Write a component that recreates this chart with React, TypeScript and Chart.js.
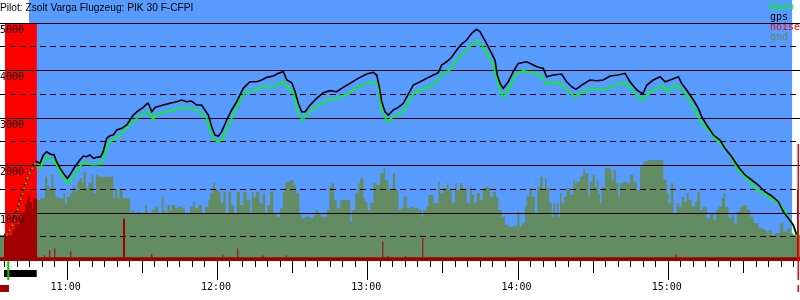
import React, { useEffect, useRef } from 'react';
import { Chart, registerables } from 'chart.js';

Chart.register(...registerables);

// ---------- texts ----------
const TITLE = 'Pilot: Zsolt Varga Flugzeug: PIK 30 F-CFPI';
const legendNames = ['baro', 'gps', 'noise', 'gnd'];
const legendColors = ['#00ff00', '#000000', '#ff0000', '#638c63'];
const altTicks = [1000, 2000, 3000, 4000, 5000];
const hourTimes = [60, 120, 180, 240, 300]; // minutes after 10:00
const hourLabels = ['11:00', '12:00', '13:00', '14:00', '15:00'];

// ---------- time ranges (minutes after 10:00) ----------
const T_MIN = 33.4;
const T_MAX = 352.76;
const flightRange = [35.4, 349.6];
const towRange = [35.4, 48.1];
const towBar = [35.0, 48.05];
const releaseMark = 36.7;
const landingMark = 352.0;
const TOW_END = 47.9;

// ---------- gps altitude ----------
const gpsTime = [35.4, 36.7, 38.1, 39.4, 40.7, 42.1, 43.4, 44.7, 46.1, 47.4,
  48.1, 49.4, 50.7, 52.0, 53.4, 55.0, 56.0, 57.4, 58.7, 60.3,
  61.3, 63.3, 65.3, 66.7, 68.0, 69.3, 70.7, 72.0, 73.6, 74.6,
  76.0, 77.3, 78.6, 80.0, 82.0, 84.0, 85.3, 86.6, 88.6, 90.6,
  92.0, 92.6, 94.0, 95.3, 97.3, 98.6, 101.3, 103.9, 105.9, 107.9,
  109.9, 111.9, 113.9, 115.2, 116.6, 117.9, 119.2, 120.6, 121.9, 123.9,
  125.9, 127.9, 130.5, 133.2, 135.9, 137.9, 139.9, 142.5, 144.5, 146.5,
  147.9, 149.9, 151.2, 152.5, 153.8, 155.2, 157.2, 159.8, 162.5, 165.1,
  167.8, 169.8, 173.1, 176.4, 179.8, 182.4, 183.8, 184.8, 185.8, 187.1,
  188.4, 190.4, 192.4, 194.4, 196.4, 198.4, 201.1, 203.7, 206.4, 208.4,
  209.7, 211.7, 213.7, 215.7, 217.7, 219.7, 221.7, 223.7, 225.0, 227.0,
  229.0, 231.0, 231.9, 233.0, 234.3, 236.3, 238.3, 240.3, 243.7, 246.3,
  247.7, 250.3, 251.6, 254.3, 257.6, 259.6, 261.6, 263.3, 265.6, 268.9,
  271.6, 274.2, 276.9, 280.2, 282.9, 284.9, 287.6, 290.0, 291.6, 294.2,
  296.9, 298.9, 300.9, 304.2, 305.5, 307.5, 310.2, 312.2, 313.5, 315.5,
  318.2, 320.8, 322.8, 325.5, 328.1, 330.8, 333.5, 336.1, 338.8, 341.5,
  344.1, 346.1, 348.1, 350.1, 351.4];
const gpsAlt = [512, 617, 759, 969, 1180, 1426, 1637, 1848, 1987, 2114,
  2093, 2058, 2233, 2303, 2254, 2233, 2093, 1953, 1848, 1742,
  1812, 1987, 2128, 2212, 2198, 2233, 2163, 2184, 2198, 2303,
  2585, 2640, 2655, 2760, 2796, 2866, 2971, 3076, 3167, 3238,
  3308, 3323, 3146, 3238, 3266, 3287, 3323, 3357, 3393, 3357,
  3371, 3287, 3287, 3182, 3076, 2830, 2655, 2634, 2725, 2971,
  3182, 3357, 3639, 3778, 3778, 3814, 3870, 3898, 3955, 3989,
  3814, 3757, 3567, 3323, 3146, 3146, 3287, 3428, 3547, 3589,
  3567, 3639, 3743, 3849, 3940, 3976, 3919, 3673, 3357, 3146,
  3076, 3182, 3238, 3323, 3519, 3708, 3778, 3849, 3919, 3968,
  4130, 4199, 4292, 4446, 4572, 4657, 4798, 4882, 4832, 4642,
  4446, 4235, 3919, 3743, 3639, 3778, 3989, 4165, 4199, 4130,
  4094, 4059, 3884, 3919, 3940, 3778, 3673, 3617, 3708, 3814,
  3800, 3814, 3898, 3919, 3955, 3778, 3603, 3519, 3708, 3814,
  3884, 3778, 3814, 3884, 3743, 3603, 3393, 3217, 3040, 2866,
  2655, 2549, 2374, 2198, 1987, 1812, 1707, 1601, 1460, 1370,
  1249, 1039, 900, 759, 560];

// ---------- baro altitude ----------
const baroTime = [35.4, 36.7, 38.1, 39.4, 40.7, 42.1, 43.4, 44.7, 46.1, 47.4,
  48.1, 49.4, 50.7, 52.0, 53.4, 55.0, 56.7, 58.0, 59.4, 60.7,
  62.0, 64.0, 66.7, 68.7, 70.7, 73.3, 74.6, 76.6, 78.6, 82.0,
  85.3, 88.0, 91.3, 93.3, 94.4, 96.0, 100.0, 105.9, 110.6, 113.9,
  115.9, 117.9, 119.9, 121.9, 123.9, 126.5, 129.2, 131.9, 135.9, 138.5,
  142.5, 146.5, 149.2, 150.5, 151.8, 153.2, 154.2, 156.5, 159.8, 163.8,
  167.8, 171.8, 177.1, 181.8, 184.2, 185.8, 188.0, 190.4, 194.4, 197.8,
  201.1, 205.1, 208.4, 210.4, 213.0, 215.7, 219.7, 221.7, 223.7, 225.7,
  228.3, 230.3, 231.9, 233.3, 234.6, 237.0, 239.0, 242.3, 246.3, 249.0,
  251.6, 257.0, 259.6, 262.9, 266.3, 270.2, 274.9, 278.2, 282.9, 285.6,
  289.6, 292.9, 298.2, 299.5, 303.5, 306.2, 308.8, 311.5, 313.5, 316.8,
  319.5, 322.1, 324.8, 328.1, 331.5, 335.5, 338.1, 342.1, 344.8, 347.5,
  350.1, 351.4];
const baroAlt = [480, 590, 730, 930, 1140, 1380, 1590, 1800, 1940, 2040,
  1987, 1953, 2093, 2184, 2142, 2114, 1953, 1812, 1707, 1637,
  1742, 1882, 2093, 2044, 2023, 2037, 2163, 2493, 2550, 2691,
  2887, 3007, 3125, 3146, 2971, 3091, 3146, 3238, 3196, 3112,
  3007, 2655, 2514, 2550, 2760, 3076, 3393, 3589, 3603, 3687,
  3673, 3778, 3603, 3567, 3252, 3040, 2971, 3112, 3252, 3393,
  3428, 3519, 3687, 3778, 3743, 3182, 2935, 3040, 3146, 3498,
  3603, 3673, 3814, 3955, 4024, 4235, 4446, 4551, 4642, 4551,
  4305, 4130, 3814, 3533, 3463, 3673, 3919, 4010, 3955, 3919,
  3743, 3757, 3603, 3463, 3567, 3639, 3603, 3708, 3757, 3603,
  3378, 3567, 3708, 3567, 3708, 3567, 3393, 3112, 2901, 2725,
  2550, 2409, 2233, 1917, 1742, 1496, 1426, 1285, 1215, 969,
  723, 512];

// ---------- noise (stepped) ----------
const noiseTime = [33.4, 35.0, 35.4, 38.2, 39.4, 41.4, 42.6, 43.4, 44.2, 44.6,
  45.4, 46.2, 46.6, 48.2,
  50.96, 51.36, 53.08, 53.48, 55.08, 55.48, 61.46, 61.86,
  82.5, 83.3, 93.8, 94.2, 122.14, 122.54, 128.13, 128.53,
  138.11, 138.51, 147.45, 147.85, 186.02, 186.42, 188.01, 188.41,
  195.2, 195.6, 201.98, 202.38, 302.98, 303.38, 351.56, 352.36, 352.76];
const noiseVal = [80, 580, 540, 650, 775, 880, 1030, 1220, 1320, 1380,
  1240, 1130, 1320, 80,
  120, 80, 230, 80, 265, 80, 205, 80,
  895, 80, 140, 80, 130, 80, 265, 80,
  120, 80, 120, 80, 415, 80, 110, 80,
  110, 80, 490, 80, 135, 80, 1500, 80, 80];

// ---------- ground elevation (stepped) ----------
const gndTime = [33.4, 35.4, 48.04, 49.37, 51.37, 52.30, 53.10, 53.90, 54.70, 55.49,
  56.69, 58.69, 59.35, 60.02, 61.35, 62.41, 63.35, 64.28, 65.08, 66.01,
  66.68, 67.74, 68.67, 70.00, 70.67, 71.73, 72.67, 78.66, 79.32, 80.25,
  81.05, 82.38, 85.31, 85.97, 86.64, 87.97, 89.30, 91.30, 91.97, 92.63,
  93.96, 95.29, 96.62, 97.95, 98.62, 99.28, 100.22, 101.28, 101.95, 103.28,
  104.61, 105.94, 107.27, 109.27, 110.60, 111.26, 112.59, 113.93, 115.26, 116.59,
  117.25, 118.32, 119.25, 120.58, 121.51, 122.58, 123.51, 124.57, 125.64, 126.84,
  127.90, 129.23, 130.56, 131.89, 133.22, 133.89, 134.56, 135.62, 136.95, 138.28,
  139.22, 140.15, 141.21, 142.54, 143.87, 145.21, 146.27, 147.20, 147.87, 149.20,
  150.53, 151.59, 152.92, 153.86, 155.19, 157.18, 158.52, 159.58, 160.51, 161.45,
  163.84, 164.91, 165.84, 166.77, 167.84, 169.17, 173.17, 173.83, 175.16, 176.49,
  177.16, 178.49, 179.15, 180.09, 181.15, 182.48, 183.82, 185.15, 186.48, 187.15,
  188.48, 190.21, 191.14, 192.47, 193.41, 194.47, 195.80, 197.07, 198.40, 200.40,
  201.73, 202.39, 203.46, 204.39, 206.39, 208.38, 209.05, 210.38, 211.71, 212.38,
  213.71, 215.04, 215.70, 217.04, 218.10, 219.70, 221.03, 221.69, 222.63, 223.69,
  225.02, 226.09, 227.02, 229.01, 230.35, 231.41, 232.34, 233.67, 235.00, 236.33,
  238.33, 239.93, 240.73, 241.66, 242.98, 243.65, 244.71, 245.65, 246.98, 247.91,
  248.98, 250.04, 250.98, 251.64, 252.70, 253.64, 254.30, 254.97, 255.63, 256.30,
  256.97, 257.63, 258.56, 259.63, 260.96, 262.29, 262.95, 263.62, 264.95, 266.28,
  266.95, 268.28, 268.94, 270.01, 270.94, 271.60, 272.27, 272.94, 273.60, 274.93,
  276.93, 277.59, 278.26, 279.32, 280.26, 280.92, 282.25, 283.58, 284.91, 286.25,
  287.58, 288.91, 290.24, 291.84, 298.22, 299.56, 300.22, 301.15, 302.22, 303.55,
  304.61, 305.54, 306.48, 307.54, 308.34, 309.54, 310.87, 311.80, 312.87, 313.93,
  315.53, 316.86, 318.19, 319.26, 320.19, 321.52, 322.19, 322.85, 324.18, 325.52,
  326.45, 327.51, 328.84, 329.91, 331.51, 332.84, 334.17, 336.17, 338.16, 339.49,
  340.16, 341.49, 342.82, 344.82, 346.15, 347.48, 348.82, 350.15, 352.8];
const gndVal = [548, 600, 1285, 1320, 1777, 1566, 1510, 1812, 1531, 1355,
  1320, 1426, 1215, 1355, 1426, 1601, 1461, 1672, 1742, 1636,
  1882, 1531, 1636, 1812, 1426, 1812, 1777, 1320, 1496, 1320,
  1496, 1320, 1004, 1075, 1004, 1039, 1004, 1180, 1039, 1004,
  1075, 1145, 1004, 1355, 1075, 1004, 1180, 1075, 1180, 1110,
  1145, 1110, 1004, 1145, 1250, 1110, 1180, 1004, 1145, 1285,
  1426, 1636, 1496, 1461, 1215, 1461, 1004, 1461, 1180, 1004,
  1461, 1180, 1461, 1285, 1004, 1461, 1355, 1461, 1215, 1426,
  1004, 1180, 1461, 1004, 934, 1110, 1461, 1636, 1672, 1707,
  1601, 1426, 969, 899, 934, 899, 969, 1075, 1004, 934,
  1075, 1566, 1636, 1285, 1110, 1285, 829, 1075, 1426, 1636,
  1742, 1320, 1250, 1075, 1215, 1636, 1601, 1847, 1953, 1707,
  1496, 1847, 1496, 1075, 1110, 1355, 1110, 1145, 1110, 1075,
  934, 1075, 1145, 1391, 1215, 1672, 1426, 1531, 1636, 1496,
  1215, 1636, 1496, 1636, 1531, 1215, 1566, 1391, 1215, 1426,
  1285, 1531, 1552, 1355, 1461, 1355, 1075, 934, 759, 723,
  737, 1039, 723, 794, 1145, 1355, 1531, 1355, 1004, 1566,
  1777, 1531, 1742, 1531, 1215, 934, 1215, 1004, 1215, 934,
  1426, 1215, 1355, 1531, 1391, 1707, 1636, 1672, 1777, 1917,
  1847, 1355, 1672, 1812, 1566, 1707, 1426, 1215, 1566, 1953,
  1917, 1707, 1917, 1636, 1355, 1636, 1672, 1636, 1812, 1672,
  1496, 1988, 2093, 2128, 1707, 1426, 1215, 1636, 1004, 1215,
  1145, 1355, 1250, 1426, 1285, 1145, 1250, 1461, 1075, 1145,
  899, 1004, 864, 1075, 1145, 1320, 1426, 1145, 899, 969,
  794, 1039, 1145, 1180, 1075, 934, 794, 688, 653, 583,
  653, 548, 583, 794, 618, 688, 583, 548, 548];

const BLUE = '#589bff';
const MONO = "10px 'DejaVu Sans Mono'";

const pairs = (ts: number[], vs: number[]) =>
  ts.slice(0, Math.min(ts.length, vs.length)).map((t, i) => ({ x: t, y: vs[i] }));

const decoPlugin = {
  id: 'deco',
  beforeDatasetsDraw(chart: any) {
    const { ctx, chartArea: a, scales } = chart;
    const x = scales.x;
    ctx.save();
    const x0 = x.getPixelForValue(flightRange[0]);
    const x1 = x.getPixelForValue(flightRange[1]);
    ctx.fillStyle = BLUE;
    ctx.fillRect(x0, a.top, x1 - x0, a.bottom - a.top);
    ctx.restore();
  },
  afterDatasetDraw(chart: any, args: any) {
    if (args.index !== 3) return;
    const { ctx, chartArea: a, scales } = chart;
    const x = scales.x, y = scales.y;
    ctx.save();
    // tow highlight
    const r0 = x.getPixelForValue(towRange[0]);
    const r1 = x.getPixelForValue(towRange[1]);
    const rt = y.getPixelForValue(5000);
    ctx.fillStyle = '#ff0000';
    ctx.fillRect(r0, rt, r1 - r0, a.bottom - rt);
    // grid
    ctx.strokeStyle = '#000';
    ctx.lineWidth = 1;
    for (let v = 500; v <= 5000; v += 500) {
      const py = Math.round(y.getPixelForValue(v)) - 0.5;
      ctx.setLineDash(v % 1000 === 0 ? [] : [6, 4]);
      ctx.beginPath();
      ctx.moveTo(0, py);
      ctx.lineTo(800, py);
      ctx.stroke();
    }
    ctx.restore();
  },
  afterDatasetsDraw(chart: any) {
    const { ctx, chartArea: a, scales } = chart;
    const x = scales.x, y = scales.y;
    ctx.save();
    ctx.setLineDash([]);
    // landing marker
    const lx = Math.round(x.getPixelForValue(landingMark));
    ctx.fillStyle = '#ff0000';
    const ly = y.getPixelForValue(2466);
    ctx.fillRect(lx - 0.5, ly, 1.5, 280 - ly);
    ctx.fillRect(lx - 0.5, 285, 1.5, 7);
    // y labels
    ctx.font = MONO;
    ctx.fillStyle = '#000';
    ctx.textAlign = 'left';
    ctx.textBaseline = 'top';
    altTicks.forEach((v) => {
      ctx.fillText(String(v), 0, y.getPixelForValue(v) + 1.5);
    });
    // x ticks
    ctx.strokeStyle = '#000';
    ctx.lineWidth = 1;
    for (let t = Math.ceil(T_MIN / 5) * 5; t <= T_MAX; t += 5) {
      const px = Math.round(x.getPixelForValue(t)) + 0.5;
      const len = t % 60 === 0 ? 19 : t % 30 === 0 ? 12 : 6;
      ctx.beginPath();
      ctx.moveTo(px, a.bottom);
      ctx.lineTo(px, a.bottom + len);
      ctx.stroke();
    }
    ctx.textAlign = 'center';
    ctx.textBaseline = 'top';
    hourTimes.forEach((t, i) => {
      ctx.fillText(hourLabels[i], x.getPixelForValue(t) - 1, 282);
    });
    // tow bar + release mark
    const b0 = x.getPixelForValue(towBar[0]);
    const b1 = x.getPixelForValue(towBar[1]);
    ctx.fillStyle = '#000';
    ctx.fillRect(b0, 270, b1 - b0, 7);
    ctx.fillStyle = '#00cc00';
    ctx.fillRect(x.getPixelForValue(releaseMark) - 1, a.bottom, 2, 19);
    ctx.fillStyle = '#a00000';
    ctx.fillRect(0, 285, x.getPixelForValue(37.0), 7);
    // legend
    ctx.textAlign = 'left';
    ctx.textBaseline = 'top';
    ctx.font = MONO;
    legendNames.forEach((n, i) => {
      ctx.fillStyle = legendColors[i];
      ctx.fillText(n, 770, 2 + i * 10);
    });
    // title
    ctx.fillStyle = '#fff';
    ctx.fillRect(0, 0, 29, 23);
    ctx.fillStyle = '#000';
    ctx.font = "10.2px 'Liberation Sans'";
    ctx.textBaseline = 'alphabetic';
    ctx.fillText(TITLE, 0, 10.5);
    ctx.restore();
  },
};

export default function App() {
  const ref = useRef<HTMLCanvasElement>(null);
  useEffect(() => {
    document.body.style.margin = '0';
    const canvas = ref.current;
    if (!canvas) return;
    const towDash = (dash: number[]) => (c: any) =>
      c.p0.parsed.x < TOW_END ? dash : undefined;
    const chart = new Chart(canvas, {
      type: 'line',
      data: {
        datasets: [
          {
            label: 'gps',
            data: pairs(gpsTime, gpsAlt),
            borderColor: '#000000',
            borderWidth: 1.6,
            pointRadius: 0,
            fill: false,
            segment: { borderDash: towDash([1.5, 4]) },
          } as any,
          {
            label: 'baro',
            data: pairs(baroTime, baroAlt),
            borderColor: '#00ff00',
            borderWidth: 1.6,
            pointRadius: 0,
            fill: false,
            segment: {
              borderDash: towDash([1.5, 4]),
              borderDashOffset: (c: any) => (c.p0.parsed.x < TOW_END ? 2.5 : undefined),
            },
          } as any,
          {
            label: 'noise',
            data: pairs(noiseTime, noiseVal),
            borderWidth: 0,
            borderColor: 'rgba(0,0,0,0)',
            backgroundColor: '#a00000',
            pointRadius: 0,
            stepped: 'before',
            fill: 'origin',
          } as any,
          {
            label: 'gnd',
            data: pairs(gndTime, gndVal),
            borderWidth: 0,
            borderColor: 'rgba(0,0,0,0)',
            backgroundColor: '#638c63',
            pointRadius: 0,
            stepped: 'before',
            fill: 'origin',
          } as any,
        ],
      },
      options: {
        animation: false,
        responsive: false,
        devicePixelRatio: 1,
        layout: { padding: { left: 0, right: 0, top: 0, bottom: 39 } },
        scales: {
          x: { type: 'linear', min: T_MIN, max: T_MAX, display: false },
          y: { min: 0, max: 5500, display: false },
        },
        plugins: { legend: { display: false }, tooltip: { enabled: false } },
        events: [],
      },
      plugins: [decoPlugin],
    });
    return () => chart.destroy();
  }, []);
  return (
    <div style={{ width: 800, height: 300 }}>
      <canvas ref={ref} width={800} height={300} style={{ display: 'block' }} />
    </div>
  );
}
